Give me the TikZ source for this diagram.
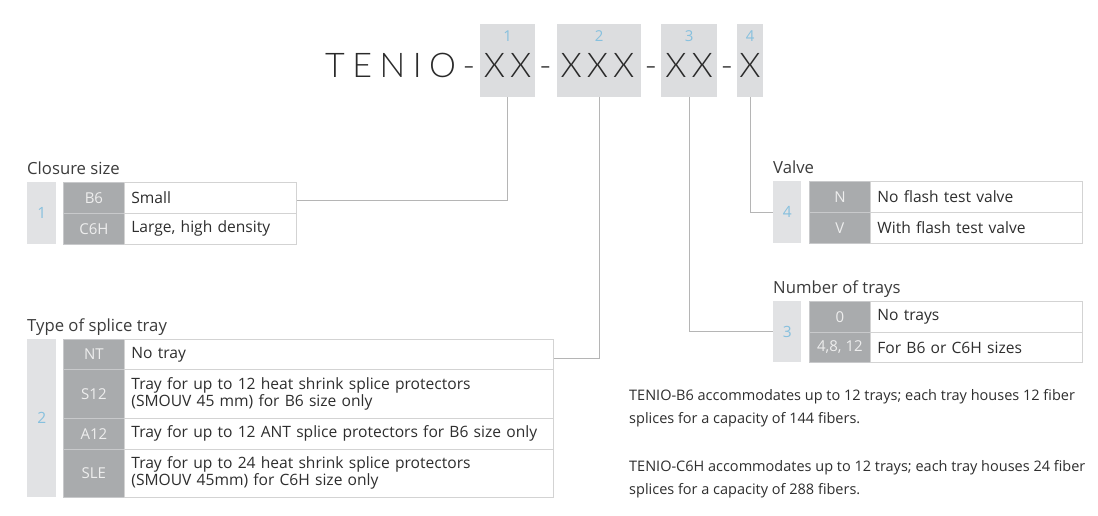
\documentclass[tikz,border=0pt]{standalone}
\usepackage{fontspec}
\setmainfont{Open Sans}
\IfFontExistsTF{Lato Light}{\newfontfamily\headfont{Lato Light}}{\newfontfamily\headfont{Lato}}
\definecolor{numgrey}{HTML}{E1E2E4}
\definecolor{numblue}{HTML}{86C0DE}
\definecolor{codegrey}{HTML}{A9ABAD}
\definecolor{codeline}{HTML}{C8C9CB}
\definecolor{codetext}{HTML}{EEEEEE}
\definecolor{bordergrey}{HTML}{D3D3D3}
\definecolor{txtcol}{HTML}{2E2E2E}
\definecolor{titlecol}{HTML}{3C3C3C}
\definecolor{headcol}{HTML}{2A2A2A}
\definecolor{boxgrey}{HTML}{DCDDDF}
\definecolor{linegrey}{HTML}{B5B5B5}
\tikzset{
  hbox/.style={fill=boxgrey, draw=none, inner sep=0pt, anchor=north west},
  hnum/.style={text=numblue, font=\fontsize{15}{15}\selectfont, inner sep=0pt},
  head/.style={font=\headfont\fontsize{34}{34}\selectfont, text=headcol, inner sep=0pt, anchor=base},
  title/.style={font=\fontsize{16.7}{18}\selectfont, text=titlecol, inner sep=0pt, anchor=base west},
  numcell/.style={fill=numgrey, draw=none, inner sep=0pt, anchor=north west, text=numblue, font=\fontsize{15.5}{15.5}\selectfont},
  codecell/.style={fill=codegrey, draw=codeline, line width=0.8pt, inner sep=0pt, anchor=north west, text=codetext, font=\fontsize{15}{15}\selectfont},
  txtcell/.style={fill=white, draw=bordergrey, line width=0.8pt, inner ysep=0pt, inner xsep=7pt, anchor=north west, text=txtcol, font=\fontsize{15.6}{17}\selectfont, align=left},
  para/.style={text=txtcol, font=\fontsize{14.5}{22.7}\selectfont, inner sep=0pt, anchor=base west, align=left},
  conn/.style={draw=linegrey, line width=1pt}
}
\begin{document}
\begin{tikzpicture}[x=1pt,y=-1pt]
\useasboundingbox[fill=white] (0,0) rectangle (1098,516);
% header boxes
\node[hbox, minimum width=55pt, minimum height=73pt] (b1) at (480,24) {};
\node[hbox, minimum width=84pt, minimum height=73pt] (b2) at (557,24) {};
\node[hbox, minimum width=56pt, minimum height=73pt] (b3) at (661,24) {};
\node[hbox, minimum width=26pt, minimum height=73pt] (b4) at (737,24) {};
\node[hnum] (hn1) at ([yshift=-12pt]b1.north) {1};
\node[hnum] (hn2) at ([yshift=-12pt]b2.north) {2};
\node[hnum] (hn3) at ([yshift=-12pt]b3.north) {3};
\node[hnum] (hn4) at ([yshift=-12pt]b4.north) {4};
% header text
\node[head, anchor=base west] (h0) at (325,78) {T\kern7.5pt E\kern7.5pt N\kern7.5pt I\kern7.5pt O};
\node[head] (hd1) at (469,78) {-};
\node[head] (hx1) at (507.5,78) {X\kern5pt X};
\node[head] (hd2) at (545.5,78) {-};
\node[head] (hx2) at (597.5,78) {X\kern5pt X\kern5pt X};
\node[head] (hd3) at (651,78) {-};
\node[head] (hx3) at (689,78) {X\kern5pt X};
\node[head] (hd4) at (727,78) {-};
\node[head] (hx4) at (750,78) {X};
% closure size
\node[title] (t1) at (27,175) {Closure size};
\node[numcell, minimum width=29pt, minimum height=62pt] (n1) at (27,182) {1};
\node[codecell, minimum width=61pt, minimum height=31pt] (c1a) at (63,182) {B6};
\node[codecell, minimum width=61pt, minimum height=31pt] (c1b) at (63,213) {C6H};
\node[txtcell, text width=158pt, minimum height=31pt] (x1a) at (124,182) {Small};
\node[txtcell, text width=158pt, minimum height=31pt] (x1b) at (124,213) {Large, high density};
% type of splice tray
\node[title] (t2) at (27,331) {Type of splice tray};
\node[numcell, minimum width=29pt, minimum height=158pt] (n2) at (27,339) {2};
\node[codecell, minimum width=61pt, minimum height=30pt] (c2a) at (63,339) {NT};
\node[codecell, minimum width=61pt, minimum height=49pt] (c2b) at (63,369) {S12};
\node[codecell, minimum width=61pt, minimum height=31pt] (c2c) at (63,418) {A12};
\node[codecell, minimum width=61pt, minimum height=48pt] (c2d) at (63,449) {SLE};
\node[txtcell, text width=415pt, minimum height=30pt] (x2a) at (124,339) {No tray};
\node[txtcell, text width=415pt, minimum height=49pt] (x2b) at (124,369) {Tray for up to 12 heat shrink splice protectors\\(SMOUV 45 mm) for B6 size only};
\node[txtcell, text width=415pt, minimum height=31pt] (x2c) at (124,418) {Tray for up to 12 ANT splice protectors for B6 size only};
\node[txtcell, text width=415pt, minimum height=48pt] (x2d) at (124,449) {Tray for up to 24 heat shrink splice protectors\\(SMOUV 45mm) for C6H size only};
% valve
\node[title] (t4) at (773,173.5) {Valve};
\node[numcell, minimum width=28pt, minimum height=62pt] (n4) at (773,181) {4};
\node[codecell, minimum width=61pt, minimum height=31pt] (c4a) at (809,181) {N};
\node[codecell, minimum width=61pt, minimum height=31pt] (c4b) at (809,212) {V};
\node[txtcell, text width=198pt, minimum height=31pt] (x4a) at (870,181) {No flash test valve};
\node[txtcell, text width=198pt, minimum height=31pt] (x4b) at (870,212) {With flash test valve};
% number of trays
\node[title] (t3) at (773,293) {Number of trays};
\node[numcell, minimum width=28pt, minimum height=61pt] (n3) at (773,301) {3};
\node[codecell, minimum width=61pt, minimum height=31pt] (c3a) at (809,301) {0};
\node[codecell, minimum width=61pt, minimum height=30pt] (c3b) at (809,332) {4,8, 12};
\node[txtcell, text width=198pt, minimum height=31pt] (x3a) at (870,301) {No trays};
\node[txtcell, text width=198pt, minimum height=30pt] (x3b) at (870,332) {For B6 or C6H sizes};
% paragraphs
\node[para] (p1) at (629,423.2) {TENIO-B6 accommodates up to 12 trays; each tray houses 12 fiber\\splices for a capacity of 144 fibers.};
\node[para] (p2) at (629,494.2) {TENIO-C6H accommodates up to 12 trays; each tray houses 24 fiber\\splices for a capacity of 288 fibers.};
% connectors
\draw[conn] (b1.south) |- ([yshift=-2.5pt]x1a.east);
\draw[conn] (b2.south) |- ([yshift=-4pt]x2a.east);
\draw[conn] (b3.south) |- (n3.west);
\draw[conn] (b4.south) |- (n4.west);
\end{tikzpicture}
\end{document}
